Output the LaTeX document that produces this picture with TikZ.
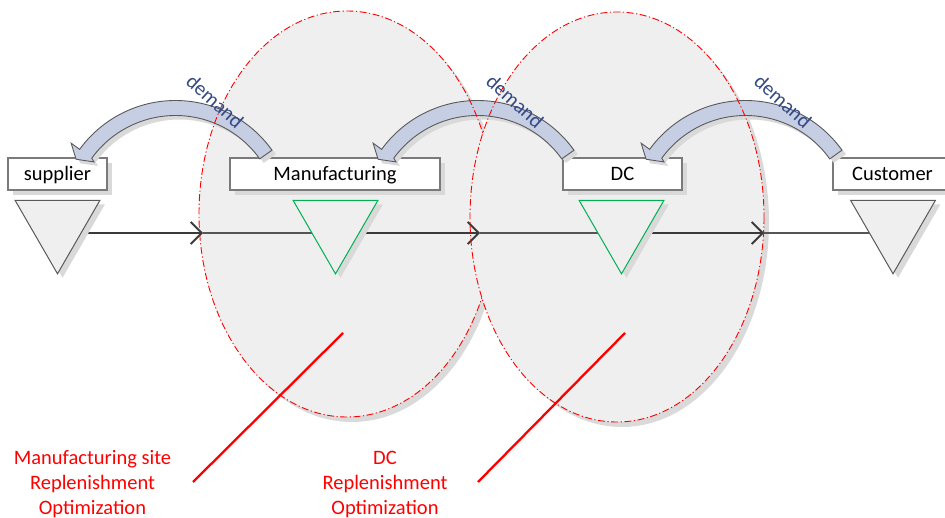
\documentclass[tikz,border=0pt]{standalone}
\usepackage{fontspec}
\setmainfont{Carlito}
\usetikzlibrary{arrows.meta,calc,shapes.geometric,shadows,backgrounds}

\definecolor{zonefill}{HTML}{EFEFEF}
\definecolor{zoneshadow}{HTML}{DADADA}
\definecolor{boxshadow}{HTML}{D9D9D9}
\definecolor{boxborder}{HTML}{7A7A7A}
\definecolor{stockgray}{HTML}{595959}
\definecolor{stockgreen}{HTML}{00B050}
\definecolor{demandfill}{HTML}{C6CEE4}
\definecolor{demandborder}{HTML}{5A5A5A}
\definecolor{demandtext}{RGB}{52,74,134}
\definecolor{flowdark}{HTML}{3A3A3A}
\definecolor{flowlight}{HTML}{555555}

\begin{document}
\begin{tikzpicture}[x=1pt, y=-1pt,
  font=\fontsize{20.5pt}{24.5pt}\selectfont,
  zone/.style={draw=red, line width=0.9pt,
    dash pattern=on 7pt off 2.5pt on 1.2pt off 2.5pt},
  stage/.style={draw=boxborder, line width=1.1pt, fill=white,
    minimum height=32pt, inner sep=0pt, text height=15.5pt, text depth=2.5pt,
    drop shadow={shadow xshift=5pt, shadow yshift=-5pt, fill=boxshadow, opacity=1}},
  stock/.style={regular polygon, regular polygon sides=3,
    shape border rotate=180, minimum size=98pt, inner sep=0pt, outer sep=0pt,
    fill=zonefill, line width=1pt,
    drop shadow={shadow xshift=5pt, shadow yshift=-4pt, fill=boxshadow, opacity=1}},
  demand/.style={fill=demandfill, draw=demandborder, line width=0.9pt,
    drop shadow={shadow xshift=4pt, shadow yshift=-4pt, fill=boxshadow, opacity=1}},
  demandlabel/.style={text=demandtext, inner sep=0pt},
  flowarrow/.style={draw=flowdark, line width=1.8pt,
    -{Straight Barb[length=11pt, width=22pt]}},
  flowcont/.style={draw=flowlight, line width=1.3pt},
  pointer/.style={draw=red, line width=2.3pt},
  goal/.style={text=red, align=center, inner sep=0pt,
    font=\fontsize{20.5pt}{25pt}\selectfont}]

\clip (0,0) rectangle (945,518);

% replenishment zones
\coordinate (z1) at (347,214);
\coordinate (z2) at (617,217);

% stock points
\node[stock, draw=stockgray]  (s1) at (57.5,224.8) {};
\node[stock, draw=stockgreen] (s2) at (335.5,224.8) {};
\node[stock, draw=stockgreen] (s3) at (621.5,224.8) {};
\node[stock, draw=stockgray]  (s4) at (893,224.8) {};

\begin{pgfonlayer}{background}
  \fill[zoneshadow] ($(z1)+(5,5)$) ellipse [x radius=148, y radius=203];
  \fill[zonefill] (z1) ellipse [x radius=148, y radius=203];
  \fill[zoneshadow] ($(z2)+(5,5)$) ellipse [x radius=147, y radius=205];
  \fill[zonefill] (z2) ellipse [x radius=147, y radius=205];

  % goods flow
  \coordinate (e1) at (203,233);
  \coordinate (e2) at (480,233);
  \coordinate (e3) at (764,233);
  \draw[flowarrow] (s1.center |- e1) -- (e1);
  \draw[flowcont] (e1) -- (e1 -| s2.center);
  \draw[flowarrow] (s2.center |- e2) -- (e2);
  \draw[flowcont] (e2) -- (e2 -| s3.center);
  \draw[flowarrow] (s3.center |- e3) -- (e3);
  \draw[flowcont] (e3) -- (e3 -| s4.center);
\end{pgfonlayer}

% pointers from the captions into the zones
\coordinate (m1) at (193,482);
\coordinate (n1) at (343,333);
\coordinate (m2) at (478,482);
\coordinate (n2) at (625,333);
\draw[pointer] (m1) -- (n1);
\draw[pointer] (m2) -- (n2);

% supply chain stages
\node[stage, minimum width=99pt]  (sup) at (57.5,174) {supplier};
\node[stage, minimum width=210pt] (mfg) at (335,174) {Manufacturing};
\node[stage, minimum width=119pt] (dc)  at (622.5,174) {DC};
\node[stage, minimum width=119pt] (cus) at (892.5,174) {Customer};

% demand signals flowing upstream
\coordinate (c1) at (175.5,219);
\coordinate (c2) at (477.5,219);
\coordinate (c3) at (745.5,219);
\foreach \c in {c1,c2,c3}{
  \path[demand] ($(\c)+(-35.5:118.5)$)
      arc[start angle=-35.5, end angle=-144, radius=118.5]
      -- ($(\c)+(-144:129)$) -- ($(\c)+(-149:116)$)
      -- ($(\c)+(-145:99.5)$) -- ($(\c)+(-144:103.5)$)
      arc[start angle=-144, end angle=-35.5, radius=103.5] -- cycle;
}

% zone outlines; the first one stays hidden inside the second zone
\draw[zone] (z2) ellipse [x radius=147, y radius=205];
\begin{scope}[even odd rule]
  \clip (-20,-20) rectangle (970,540)
    (z2) ellipse [x radius=147, y radius=205];
  \draw[zone] (z1) ellipse [x radius=148, y radius=203];
\end{scope}

\node[demandlabel, rotate=-42] (dm1) at (215,101) {demand};
\node[demandlabel, rotate=-42] (dm2) at (515,101) {demand};
\node[demandlabel, rotate=-42] (dm3) at (783,101) {demand};

\node[goal] (g1) at (92.5,484) {Manufacturing site\\Replenishment\\Optimization};
\node[goal] (g2) at (385,484) {DC\\Replenishment\\Optimization};
\end{tikzpicture}
\end{document}
